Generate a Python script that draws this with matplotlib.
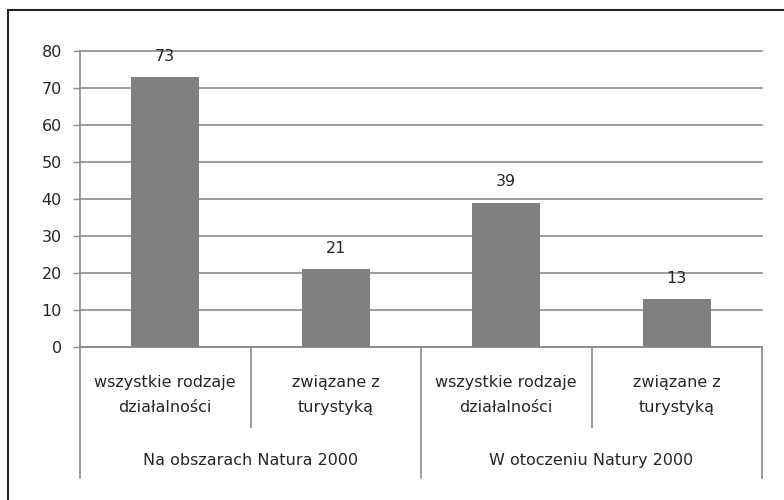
import matplotlib
matplotlib.use("Agg")
import matplotlib.pyplot as plt
from matplotlib.lines import Line2D
from matplotlib.patches import Rectangle

categories = ["wszystkie rodzaje\ndziałalności", "związane z\nturystyką",
              "wszystkie rodzaje\ndziałalności", "związane z\nturystyką"]
groups = ["Na obszarach Natura 2000", "W otoczeniu Natury 2000"]
values = [73, 21, 39, 13]
y_ticks = [0, 10, 20, 30, 40, 50, 60, 70, 80]

plt.rcParams['font.family'] = ['DejaVu Sans']
grid_col = "#8c8c8c"
text_col = "#262626"
fs = 11.5

fig = plt.figure(figsize=(7.84, 5.0), dpi=100)
W, H = 784, 500
ax = fig.add_axes([80 / W, 1 - 347 / H, (762 - 80) / W, (347 - 51) / H])

x = list(range(len(values)))
bars = ax.bar(x, values, width=0.4, color="#808080", zorder=3)

ax.set_xlim(-0.5, len(values) - 0.5)
ax.set_ylim(0, 80)
ax.set_yticks(y_ticks)
ax.yaxis.grid(True, color=grid_col, linewidth=1.2)
for gl in ax.get_ygridlines():
    gl.set_clip_on(False)
ax.set_axisbelow(True)
ax.tick_params(axis="y", length=5, width=1, color=grid_col, pad=8,
               labelsize=fs, labelcolor=text_col)
ax.tick_params(axis="x", bottom=False, labelbottom=False)
for side in ["top", "right"]:
    ax.spines[side].set_visible(False)
for side in ["left", "bottom"]:
    ax.spines[side].set_color(grid_col)
    ax.spines[side].set_linewidth(1.2)

for b, v in zip(bars, values):
    ax.annotate(str(v), xy=(b.get_x() + b.get_width() / 2, v),
                xytext=(0, 15), textcoords="offset points",
                ha="center", va="center", fontsize=fs, color=text_col)

# category labels and separators below the axis
tr = ax.get_xaxis_transform()
for i, lab in enumerate(categories):
    ax.text(i, -0.162, lab, transform=tr, ha="center", va="center",
            fontsize=fs, color=text_col, linespacing=1.8)
for i in range(len(values) + 1):
    sx = i - 0.5
    outer = i % 2 == 0
    y_end = -0.443 if outer else -0.270
    ax.add_line(Line2D([sx, sx], [0, y_end], transform=tr, color=grid_col,
                       linewidth=1.2, clip_on=False))
for g, lab in enumerate(groups):
    ax.text(2 * g + 0.5, -0.385, lab, transform=tr, ha="center", va="center",
            fontsize=fs, color=text_col)

# outer chart border (left and top edges visible)
fig.add_artist(Rectangle((8 / W, -0.05), 1.2, 1 - 10 / H + 0.05,
                         transform=fig.transFigure, fill=False,
                         edgecolor="#222222", linewidth=1.5))

fig.savefig("out.png", dpi=100)
